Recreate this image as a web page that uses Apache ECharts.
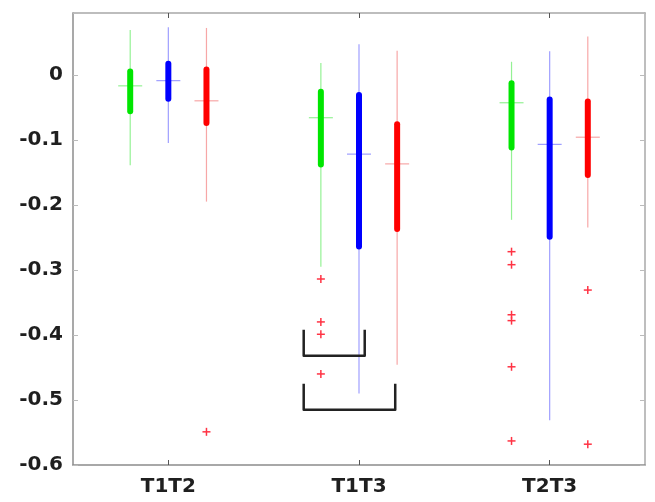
<!DOCTYPE html>
<html>
<head>
<meta charset="utf-8">
<script src="https://cdn.jsdelivr.net/npm/echarts@6/dist/echarts.min.js"></script>
<style>
  html, body { margin: 0; padding: 0; background: #fff; }
  #chart { width: 655px; height: 502px; }
</style>
</head>
<body>
<div id="chart"></div>
<script>
  // compact boxplot: [category, whiskerHigh, q3, median, q1, whiskerLow]
  const categories = ['T1T2', 'T1T3', 'T2T3'];
  const yTicks = [-0.6, -0.5, -0.4, -0.3, -0.2, -0.1, 0];

  const greenStats = [
    [0, 0.069, 0.005, -0.017, -0.056, -0.139],
    [1, 0.018, -0.026, -0.066, -0.138, -0.295],
    [2, 0.020, -0.013, -0.043, -0.112, -0.223]
  ];
  const blueStats = [
    [0, 0.073, 0.017, -0.009, -0.037, -0.105],
    [1, 0.047, -0.031, -0.122, -0.264, -0.490],
    [2, 0.036, -0.038, -0.107, -0.249, -0.531]
  ];
  const redStats = [
    [0, 0.072, 0.008, -0.040, -0.074, -0.195],
    [1, 0.037, -0.076, -0.137, -0.237, -0.446],
    [2, 0.059, -0.041, -0.096, -0.154, -0.235]
  ];

  // outliers: [category, value]
  const greenOutliers = [
    [1, -0.314], [1, -0.380], [1, -0.399], [1, -0.460],
    [2, -0.272], [2, -0.292], [2, -0.369], [2, -0.378], [2, -0.449], [2, -0.563]
  ];
  const blueOutliers = [];
  const redOutliers = [
    [0, -0.549],
    [2, -0.331], [2, -0.568]
  ];

  // significance brackets: [category, spanFrom, spanTo, yTop, yBottom]
  const brackets = [
    [1, -0.29, 0.03, -0.392, -0.432],
    [1, -0.29, 0.19, -0.475, -0.515]
  ];

  const slot = 0.2;

  function boxRender(offset, thick, thin) {
    return function (params, api) {
      const cat = api.value(0);
      const band = api.size([1, 0])[0];
      const x = api.coord([cat, 0])[0] + offset * band;
      const yHi = api.coord([cat, api.value(1)])[1];
      const yQ3 = api.coord([cat, api.value(2)])[1];
      const yMed = api.coord([cat, api.value(3)])[1];
      const yQ1 = api.coord([cat, api.value(4)])[1];
      const yLo = api.coord([cat, api.value(5)])[1];
      return {
        type: 'group',
        children: [
          { type: 'line', shape: { x1: x, y1: yHi, x2: x, y2: yLo }, style: { stroke: thin, lineWidth: 1.2 } },
          { type: 'line', shape: { x1: x - 12, y1: yMed, x2: x + 12, y2: yMed }, style: { stroke: thin, lineWidth: 1.2 } },
          { type: 'line', shape: { x1: x, y1: yQ3, x2: x, y2: yQ1 }, style: { stroke: thick, lineWidth: 6, lineCap: 'round' } }
        ]
      };
    };
  }

  function outlierRender(offset) {
    return function (params, api) {
      const cat = api.value(0);
      const band = api.size([1, 0])[0];
      const x = api.coord([cat, 0])[0] + offset * band;
      const y = api.coord([cat, api.value(1)])[1];
      const s = 4;
      return {
        type: 'group',
        children: [
          { type: 'line', shape: { x1: x - s, y1: y, x2: x + s, y2: y }, style: { stroke: '#ff3344', lineWidth: 1.5 } },
          { type: 'line', shape: { x1: x, y1: y - s, x2: x, y2: y + s }, style: { stroke: '#ff3344', lineWidth: 1.5 } }
        ]
      };
    };
  }

  function bracketRender(params, api) {
    const cat = api.value(0);
    const band = api.size([1, 0])[0];
    const c = api.coord([cat, 0])[0];
    const x1 = c + api.value(1) * band;
    const x2 = c + api.value(2) * band;
    const yT = api.coord([cat, api.value(3)])[1];
    const yB = api.coord([cat, api.value(4)])[1];
    return {
      type: 'polyline',
      shape: { points: [[x1, yT], [x1, yB], [x2, yB], [x2, yT]] },
      style: { stroke: '#222', lineWidth: 2.5, fill: null, lineJoin: 'round' }
    };
  }

  const myChart = echarts.init(document.getElementById('chart'));

  const axisColor = '#8c8c8c';
  const labelFont = {
    color: '#1f1f1f',
    fontSize: 20,
    fontWeight: 'bold',
    fontFamily: 'DejaVu Sans, sans-serif'
  };

  const options = {
    backgroundColor: '#fff',
    animation: false,
    grid: { left: 73, right: 10, top: 13, bottom: 37 },
    xAxis: [{
      type: 'category',
      data: categories,
      position: 'bottom',
      axisLine: { show: true, onZero: false, lineStyle: { color: axisColor, width: 1.5 } },
      axisTick: { show: true, inside: true, alignWithLabel: true, length: 5, lineStyle: { color: '#555' } },
      axisLabel: Object.assign({ margin: 12 }, labelFont),
      splitLine: { show: false }
    }, {
      type: 'category',
      data: categories,
      position: 'top',
      axisLine: { show: true, onZero: false, lineStyle: { color: '#a8a8a8', width: 1.5 } },
      axisTick: { show: true, inside: true, alignWithLabel: true, length: 5, lineStyle: { color: '#555' } },
      axisLabel: { show: false },
      splitLine: { show: false }
    }],
    yAxis: [{
      type: 'value',
      min: -0.6,
      max: 0.095,
      interval: 0.1,
      position: 'left',
      axisLine: { show: true, onZero: false, lineStyle: { color: axisColor, width: 1.5 } },
      axisTick: { show: true, inside: true, length: 5, lineStyle: { color: '#bbb' } },
      axisLabel: Object.assign({
        margin: 10,
        formatter: function (v) {
          const r = Number(v.toFixed(1));
          return yTicks.indexOf(r) >= 0 ? String(r) : '';
        }
      }, labelFont),
      splitLine: { show: false }
    }, {
      type: 'value',
      min: -0.6,
      max: 0.095,
      interval: 0.1,
      position: 'right',
      axisLine: { show: true, onZero: false, lineStyle: { color: '#a8a8a8', width: 1.5 } },
      axisTick: { show: true, inside: true, length: 5, lineStyle: { color: '#bbb' } },
      axisLabel: { show: false },
      splitLine: { show: false }
    }],
    series: [
      {
        name: 'green', type: 'custom', renderItem: boxRender(-slot, '#00e600', 'rgba(60,230,60,0.55)'),
        encode: { x: 0, y: [1, 2, 3, 4, 5] }, data: greenStats, z: 3
      },
      {
        name: 'blue', type: 'custom', renderItem: boxRender(0, '#0000ff', 'rgba(80,80,255,0.55)'),
        encode: { x: 0, y: [1, 2, 3, 4, 5] }, data: blueStats, z: 3
      },
      {
        name: 'red', type: 'custom', renderItem: boxRender(slot, '#ff0000', 'rgba(240,80,80,0.5)'),
        encode: { x: 0, y: [1, 2, 3, 4, 5] }, data: redStats, z: 3
      },
      {
        name: 'green outliers', type: 'custom', renderItem: outlierRender(-slot),
        encode: { x: 0, y: 1 }, data: greenOutliers, z: 4
      },
      {
        name: 'blue outliers', type: 'custom', renderItem: outlierRender(0),
        encode: { x: 0, y: 1 }, data: blueOutliers, z: 4
      },
      {
        name: 'red outliers', type: 'custom', renderItem: outlierRender(slot),
        encode: { x: 0, y: 1 }, data: redOutliers, z: 4
      },
      {
        name: 'brackets', type: 'custom', renderItem: bracketRender,
        encode: { x: 0, y: [3, 4] }, data: brackets, z: 5
      }
    ]
  };

  myChart.setOption(options);
</script>
</body>
</html>
